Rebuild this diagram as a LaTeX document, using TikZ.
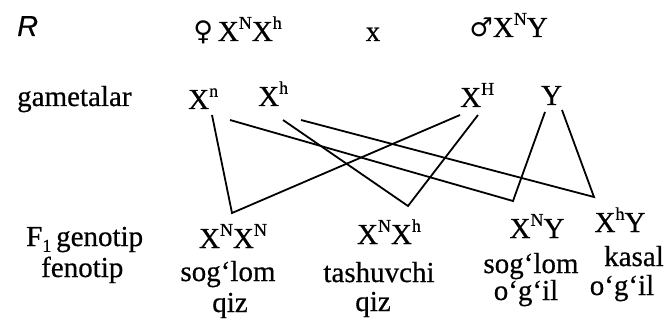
\documentclass[tikz,border=0pt]{standalone}
\usepackage{fontspec}
\setmainfont{Liberation Serif}[FakeBold=0.5]
\newfontfamily\symf{DejaVu Sans}
\newfontfamily\rfont{Liberation Sans}[FakeBold=0.3]
\newcommand\su[1]{\raisebox{0.42em}{\fontsize{18}{18}\selectfont #1}}
\newcommand\sbs[1]{\raisebox{-0.2em}{\fontsize{18}{18}\selectfont #1}}
\begin{document}
\begin{tikzpicture}[x=1pt,y=-1pt,
  txt/.style={inner sep=0pt, font=\fontsize{29}{32}\selectfont},
  conn/.style={line width=1.8pt, line cap=butt, line join=miter}]
\useasboundingbox (0,0) rectangle (669,326);
\fill[white] (0,0) rectangle (669,326);
% parents
\node[txt, anchor=base west] (R) at (17,36) {\rfont\itshape R};
\node[txt, anchor=base east] (fem) at (282,41) {{\symf\fontsize{27}{27}\selectfont ♀}\,X\su{N}X\su{h}};
\node[txt, anchor=base] (cross) at (373,41) {x};
\node[txt, anchor=base east] (male) at (548,37) {{\symf\fontsize{26}{26}\selectfont ♂}X\su{N}Y};
% gametes
\node[txt, anchor=base west] (gam) at (17,106) {gametalar};
\node[txt, anchor=base west] (gn) at (188,109) {X\su{n}};
\node[txt, anchor=base west] (gh) at (258,106) {X\su{h}};
\node[txt, anchor=base west] (gH) at (460,107) {X\su{H}};
\node[txt, anchor=base west] (gY) at (541,105) {Y};
% F1
\node[txt, anchor=base west] (f1) at (26,246) {F\sbs{1}\,genotip};
\node[txt, anchor=base west] (fen) at (41,277) {fenotip};
\node[txt, anchor=base] (o1) at (233,248) {X\su{N}X\su{N}};
\node[txt, anchor=base] (o1p) at (228,281) {sog‘lom};
\node[txt, anchor=base] (o1s) at (230,312) {qiz};
\node[txt, anchor=base] (o2) at (389,244) {X\su{N}X\su{h}};
\node[txt, anchor=base] (o2p) at (379,282) {tashuvchi};
\node[txt, anchor=base] (o2s) at (373,311) {qiz};
\node[txt, anchor=base] (o3) at (537,238) {X\su{N}Y};
\node[txt, anchor=base] (o3p) at (531,273) {sog‘lom};
\node[txt, anchor=base] (o3s) at (526,300) {o‘g‘il};
\node[txt, anchor=base] (o4) at (620,232) {X\su{h}Y};
\node[txt, anchor=base] (o4p) at (634,266) {kasal};
\node[txt, anchor=base] (o4s) at (622,295) {o‘g‘il};
% connector ends
\coordinate (a1) at (212,115);
\coordinate (a2) at (230,120);
\coordinate (b1) at (283,120);
\coordinate (b2) at (301,120);
\coordinate (c1) at (460,115);
\coordinate (c2) at (478,115);
\coordinate (d1) at (545,112);
\coordinate (d2) at (562,110);
\coordinate (v1) at (232,213);
\coordinate (v2) at (408,206);
\coordinate (v3) at (513,201);
\coordinate (v4) at (594,197);
\draw[conn] (a1) -- (v1) -- (c1);
\draw[conn] (a2) -- (v3) -- (d1);
\draw[conn] (b1) -- (v2) -- (c2);
\draw[conn] (b2) -- (v4) -- (d2);
\end{tikzpicture}
\end{document}
